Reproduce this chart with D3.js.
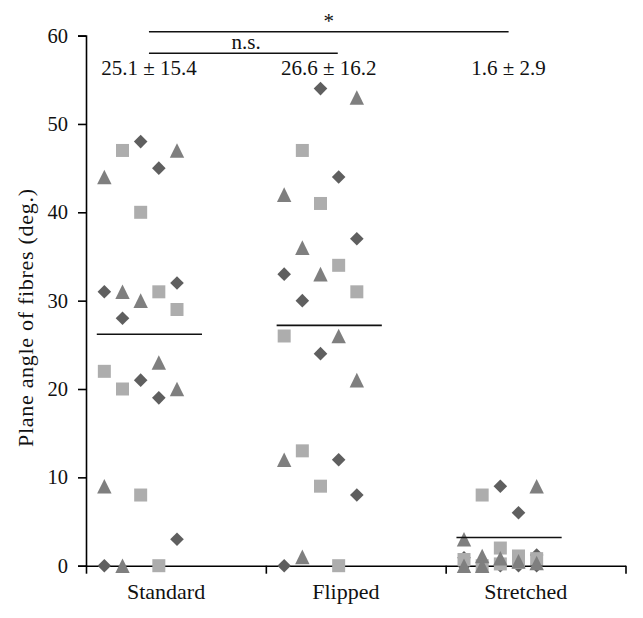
<!DOCTYPE html>
<html>
<head>
<meta charset="utf-8">
<script src="https://cdn.jsdelivr.net/npm/d3@7"></script>
<style>
  html, body { margin: 0; padding: 0; background: #fff; }
  svg { display: block; }
  text { font-family: "Liberation Serif", "Times New Roman", serif; fill: #111; }
</style>
</head>
<body>
<svg id="chart" width="643" height="618"></svg>
<script>
// ---------- data ----------
const categories = ["Standard", "Flipped", "Stretched"];
const yTicks = [0, 10, 20, 30, 40, 50, 60];
const statLabels = ["25.1 \u00b1 15.4", "26.6 \u00b1 16.2", "1.6 \u00b1 2.9"];
const lineValues = [26.2, 27.2, 3.2];          // horizontal bars drawn per group
const sigLabels = ["n.s.", "*"];

// points: [slot, value] per marker type
const standardDiamonds  = [[0,31],[0,0],[1,28],[2,48],[2,21],[3,45],[3,19],[4,32],[4,3]];
const standardSquares   = [[0,22],[1,47],[1,20],[2,40],[2,8],[3,31],[3,0],[4,29]];
const standardTriangles = [[0,44],[0,9],[1,31],[1,0],[2,30],[3,23],[4,47],[4,20]];

const flippedDiamonds  = [[0,33],[0,0],[1,30],[2,54],[2,24],[3,44],[3,12],[4,37],[4,8]];
const flippedSquares   = [[0,26],[1,47],[1,13],[2,41],[2,9],[3,34],[3,0],[4,31]];
const flippedTriangles = [[0,42],[0,12],[1,36],[1,1],[2,33],[3,26],[4,53],[4,21]];

const stretchedDiamonds  = [[0,0.9],[0,0],[1,0],[2,9],[2,0],[3,6],[3,0],[4,1.2],[4,0]];
const stretchedSquares   = [[0,0.7],[1,8],[1,0],[2,2],[2,0.2],[3,1.1],[3,0.36],[4,0.8]];
const stretchedTriangles = [[0,3],[0,0],[1,1.1],[1,0],[2,0.85],[3,0.5],[4,9],[4,0.3]];

const groups = [
  { diamonds: standardDiamonds,  squares: standardSquares,  triangles: standardTriangles },
  { diamonds: flippedDiamonds,   squares: flippedSquares,   triangles: flippedTriangles },
  { diamonds: stretchedDiamonds, squares: stretchedSquares, triangles: stretchedTriangles }
];

// ---------- layout ----------
const svg = d3.select("#chart");
const y = d3.scaleLinear().domain([0, 60]).range([565.7, 35.6]);
const x = d3.scaleLinear().domain([0, 3]).range([86, 625.5]);
const slotX = (g, s) => x(g + 0.102 + 0.101 * s);

const FONT = 21;
const colors = { diamond: "#5f5f5f", square: "#adadad", triangle: "#7f7f7f" };

// y axis
const yAxis = svg.append("g")
  .attr("transform", `translate(${x(0)},0)`)
  .call(d3.axisLeft(y).tickValues(yTicks).tickSize(8).tickSizeOuter(8).tickPadding(10));
yAxis.select(".domain").attr("stroke", "#000").attr("stroke-width", 1.6);
yAxis.selectAll(".tick line").attr("stroke", "#000").attr("stroke-width", 1.6);
yAxis.selectAll(".tick text").attr("font-size", 20.5)
  .attr("font-family", '"Liberation Serif", serif').attr("fill", "#111");

// x axis
const xAxis = svg.append("g")
  .attr("transform", `translate(0,${y(0)})`)
  .call(d3.axisBottom(x).tickValues([0, 1, 2, 3]).tickFormat("").tickSize(8).tickSizeOuter(0));
xAxis.select(".domain").attr("stroke", "#000").attr("stroke-width", 1.6);
xAxis.selectAll(".tick line").attr("stroke", "#000").attr("stroke-width", 1.6);

// category labels
svg.append("g").selectAll("text").data(categories).join("text")
  .attr("x", (d, i) => x(i + 0.445))
  .attr("y", 599)
  .attr("text-anchor", "middle")
  .attr("font-size", 22)
  .text(d => d);

// y label
svg.append("text")
  .attr("transform", `translate(33,318) rotate(-90)`)
  .attr("text-anchor", "middle")
  .attr("font-size", 22)
  .attr("textLength", 258)
  .text("Plane angle of fibres (deg.)");

// markers
const diamondPath = "M0,-6.8L6.8,0L0,6.8L-6.8,0Z";
const squarePath = "M-6.5,-6.5H6.5V6.5H-6.5Z";
const trianglePath = "M0,-7.3L7.2,7.3L-7.2,7.3Z";

const markers = svg.append("g");
groups.forEach((g, gi) => {
  markers.append("g").selectAll("path").data(g.diamonds).join("path")
    .attr("d", diamondPath).attr("fill", colors.diamond)
    .attr("transform", d => `translate(${slotX(gi, d[0])},${y(d[1])})`);
  markers.append("g").selectAll("path").data(g.squares).join("path")
    .attr("d", squarePath).attr("fill", colors.square)
    .attr("transform", d => `translate(${slotX(gi, d[0])},${y(d[1])})`);
  markers.append("g").selectAll("path").data(g.triangles).join("path")
    .attr("d", trianglePath).attr("fill", colors.triangle)
    .attr("transform", d => `translate(${slotX(gi, d[0])},${y(d[1])})`);
});

// group lines
svg.append("g").selectAll("line").data(lineValues).join("line")
  .attr("x1", (d, i) => x(i + 0.06))
  .attr("x2", (d, i) => x(i + 0.645))
  .attr("y1", d => y(d)).attr("y2", d => y(d))
  .attr("stroke", "#111").attr("stroke-width", 1.6);

// stat labels
svg.append("g").selectAll("text").data(statLabels).join("text")
  .attr("x", (d, i) => x(i + 0.35))
  .attr("y", 75)
  .attr("text-anchor", "middle")
  .attr("font-size", FONT)
  .text(d => d);

// significance brackets
const brackets = [
  { label: sigLabels[0], from: 0, to: 1, yLine: 53.3, yText: 49, xText: 0.89, extra: 0.05 },
  { label: sigLabels[1], from: 0, to: 2, yLine: 31.7, yText: 28, xText: 1.35, extra: 0 }
];
brackets.forEach(b => {
  svg.append("line")
    .attr("x1", x(b.from + 0.35)).attr("x2", x(b.to + 0.35 + b.extra))
    .attr("y1", b.yLine).attr("y2", b.yLine)
    .attr("stroke", "#111").attr("stroke-width", 1.6);
  svg.append("text")
    .attr("x", x(b.xText)).attr("y", b.yText)
    .attr("text-anchor", "middle")
    .attr("font-size", FONT)
    .text(b.label);
});
</script>
</body>
</html>
